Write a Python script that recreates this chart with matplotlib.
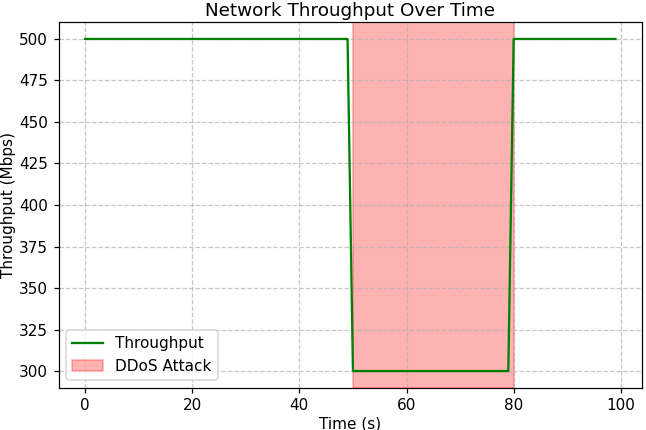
import matplotlib
matplotlib.use('Agg')
import matplotlib.pyplot as plt

# throughput sampled once per second, 0..99 s
time_s = list(range(100))
throughput = [500] * 50 + [300] * 30 + [500] * 20
attack_start = 50
attack_end = 80

DPI = 110
fig, ax = plt.subplots(figsize=(646 / DPI, 430 / DPI), dpi=DPI)
ax.plot(time_s, throughput, color='green', linewidth=1.5, label='Throughput')
ax.axvspan(attack_start, attack_end, color='red', alpha=0.3, label='DDoS Attack')

ax.set_title('Network Throughput Over Time', pad=4)
ax.set_xlabel('Time (s)', labelpad=2)
ax.set_ylabel('Throughput (Mbps)', labelpad=2)
ax.legend(loc='lower left')
ax.grid(True, linestyle='--', alpha=0.7)

fig.subplots_adjust(left=0.0906, right=0.9938, top=0.948, bottom=0.0985)
plt.savefig('out.png', dpi=DPI)
